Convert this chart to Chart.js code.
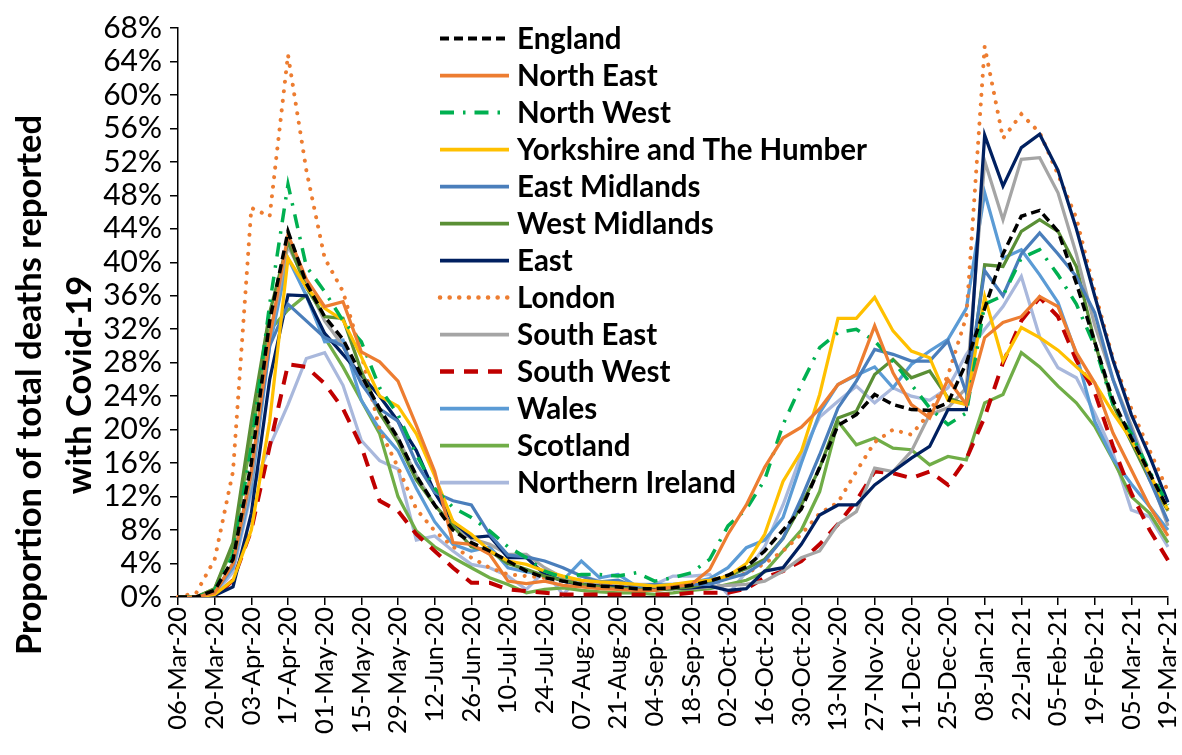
<!DOCTYPE html>
<html>
<head>
<meta charset="utf-8">
<title>Proportion of deaths with Covid-19 by region</title>
<script src="https://cdn.jsdelivr.net/npm/chart.js@4.4.1/dist/chart.umd.min.js"></script>
<style>
  html, body { margin: 0; padding: 0; background: #fff; overflow: hidden; }
  #wrap { width: 1182px; height: 755px; overflow: hidden; }
</style>
</head>
<body>
<div id="wrap"><canvas id="deathsChart" width="1182" height="770"></canvas></div>
<script>
// week ending dates
var weeks = ["06-Mar-20","13-Mar-20","20-Mar-20","27-Mar-20","03-Apr-20","10-Apr-20","17-Apr-20","24-Apr-20",
  "01-May-20","08-May-20","15-May-20","22-May-20","29-May-20","05-Jun-20","12-Jun-20","19-Jun-20","26-Jun-20",
  "03-Jul-20","10-Jul-20","17-Jul-20","24-Jul-20","31-Jul-20","07-Aug-20","14-Aug-20","21-Aug-20","28-Aug-20",
  "04-Sep-20","11-Sep-20","18-Sep-20","25-Sep-20","02-Oct-20","09-Oct-20","16-Oct-20","23-Oct-20","30-Oct-20",
  "06-Nov-20","13-Nov-20","20-Nov-20","27-Nov-20","04-Dec-20","11-Dec-20","18-Dec-20","25-Dec-20","01-Jan-21",
  "08-Jan-21","15-Jan-21","22-Jan-21","29-Jan-21","05-Feb-21","12-Feb-21","19-Feb-21","26-Feb-21","05-Mar-21",
  "12-Mar-21","19-Mar-21"];

// only every second week gets a label
var tickLabels = weeks.map(function (w, i) { return i % 2 === 0 ? w : null; });

// % of all deaths with Covid-19 mentioned
var england = [0,0,0.8,4.5,16,33,43.7,37.5,33.5,30.8, 26.5,22.5,19,14.5,11,8,6.5,5.5,4.3,3.1,
  2.3,1.9,1.5,1.3,1.2,1,1,1.1,1.4,1.9, 2.6,3.6,5.5,8,10.5,15.5,20.5,21.8,24.2,23,
  22.4,22.3,23.2,28,34.5,41,45.5,46.2,43.7,37.5, 30.5,23.5,19,14.8,10.5];
var northEast = [0,0,0.5,4,15,31,43.3,38,34.7,35.3, 29.3,28.1,25.8,20.5,15,6.5,6.3,5.1,1.9,1.6,
  1.9,1.4,1.2,1,0.9,0.8,0.8,1.2,1.5,3.3, 7.5,11,15.5,19,20.3,22.5,25.4,26.6,32.4,26.8,
  23,21.4,26,23,31,32.8,33.5,35.9,34.7,29.2, 25.6,19.6,15.2,10.8,7.3];
var northWest = [0,0,0.8,5,18,35,49.3,39.5,36.5,33, 30.5,25,21.8,17,13,10.7,9.5,7.9,6,4.7,
  3.1,2.3,2.7,2.7,2.5,2.9,1.9,2.3,2.9,4.5, 8.5,10.5,14,20.6,25.4,29.8,31.6,32,30.6,28.2,
  25.4,22.6,20.6,22,35,36,40.5,41.5,38.5,35, 30,23,19.5,15,11];
var yorkshire = [0,0,0.3,2,8,21,40.5,37,34.5,33.1, 28.7,24,22.8,19.5,14.5,9,7.5,5.5,4.3,3.9,
  3.1,2.5,2,1.8,1.7,1.5,1.3,1.5,1.8,2, 2.5,4,7.5,13.8,17.4,24.2,33.3,33.3,35.8,31.8,
  29.4,28.6,23.5,23,35.9,28.2,32.2,31,29.5,27.5, 25.6,22,18.8,14.7,10.4];
var eastMidlands = [0,0,0.5,4,15,30,35,33,31,30, 25.5,22.5,21,16,12.5,11.5,11,7.5,5,4.8,
  4.3,3.5,2.5,1.8,2,1.2,1.5,1.2,1.5,1.5, 2.2,2.8,4.3,7,11.8,17,22.6,25.8,29.6,29,
  28.2,28.2,30.6,24.4,39,36,41,43.5,41,38.3, 34,26,20,14,9];
var westMidlands = [0,0,1,6.5,21,34,42.5,37,33.5,33.3, 27,22,18.5,14,11,8.5,6,5.5,4,3.3,
  2.5,2,1.5,1.2,1,1,0.8,1,1.2,1.7, 2.5,3.4,4.5,7,11,15.4,21.4,22.2,26.6,28.4,
  26.2,27,23.8,23,39.7,39.5,43.7,45.1,43.7,39.5, 30.5,23,18.5,14,10.3];
var east = [0,0,0.2,1.2,10,26,36.1,36,31.5,29, 26.5,24,21,17.5,12.5,9,7.1,7.3,4.7,4.7,
  2.7,1.9,1.5,1.3,1.2,1,0.9,1,1.1,1.3, 0.8,1,3.1,3.5,6.3,9.8,11,11,13.4,15,
  16.6,18,22.4,22.4,55.2,49.1,53.7,55.3,51,44, 36,28.3,21.8,16.8,11.3];
var london = [0,0.5,4.5,15,46.5,45.5,64.8,51,40.5,36.5, 29,20,15.5,10.5,7.9,6,4.7,3.5,2.7,2.5,
  2.3,2,1.8,1.5,1.3,1.2,1.2,1.3,1.5,2, 2.5,2.8,4,5.5,7.5,10,11.3,15,18.5,20,
  19.4,22,26.5,33.5,65.8,54.8,57.7,55.5,50.5,45.3, 36.5,28.5,22.5,17.5,12.6];
var southEast = [0,0,0.5,4,14,31,42,37.5,33,30, 26,22,19,14.5,11,8.5,7,6.3,5.1,5.1,
  3.5,2.3,1.8,1.5,1.3,1.2,1,1,1,1.2, 1.4,1.5,1.9,3.1,4.7,5.5,8.7,10.2,15.4,15,
  17.4,21.8,22.6,25,52.1,45.1,52.3,52.5,48.3,41, 32.5,26,20.5,14.5,8.5];
var southWest = [0,0,0,2,8,18,27.8,27.5,25.5,22.5, 18,11.5,10.3,7.5,5.5,3.5,1.7,1.7,0.9,0.7,
  0.5,0.3,0.3,0.3,0.3,0.3,0.3,0.3,0.5,0.5, 0.5,1,2.3,3.1,4.3,6.3,8.7,11.5,15,14.8,
  14.2,15,13.4,16.5,21.5,28,33,35.8,33.5,28.3, 24.5,18,12.4,8,4.4];
var wales = [0,0,0.5,3.5,13,30,40.5,36,30.5,30.7, 23.5,20,17.5,13,9,6.3,5.5,6,3.5,3,
  2.7,2,4.3,2.3,2.7,1.3,1.5,1.5,1.7,2.2, 3.5,5.9,6.8,9.5,16,22,25.4,26.5,27.5,25,
  27.8,29.4,30.8,34.5,48.3,40.5,41.5,38.5,35.2,29, 21,16.5,13.5,10.8,8];
var scotland = [0,0,1,6,19,31.9,34.3,36.1,31,27.5, 23.5,19.5,12,7.9,6,4.7,3.5,2.3,1.5,0.5,
  0.9,1.1,0.8,0.6,0.5,0.5,0.3,0.5,0.8,1, 1.5,2,3,5.5,8,12.6,21,18.2,19,17.8,
  17.6,15.8,16.8,16.4,23.2,24.2,29.2,27.5,25.2,23.2, 20.4,16.4,12,10,6.5];
var northernIreland = [0,0,0.3,3,12.5,18,23,28.5,29.2,25.3, 18.7,16.3,15.3,6.8,7.3,5.5,3.9,3.5,2.5,0.9,
  3.1,0.3,2.5,1.9,1.3,1.5,1.5,2.5,2.5,2.7, 0.3,3,6,11,17,21.5,23.4,25.2,23.2,25,
  24,23.5,25,29,32,34.7,38.3,31.1,27.4,26.2, 22,17.2,10.4,9.6,6];

var yTitle = ["Proportion of total deaths reported", "with Covid-19"];

function series(label, data, color, extra) {
  var ds = {
    label: label,
    data: data,
    borderColor: color,
    backgroundColor: color,
    borderWidth: 3.25,
    pointRadius: 0,
    tension: 0,
    fill: false
  };
  for (var k in extra) ds[k] = extra[k];
  return ds;
}

var datasets = [
  series("England", england, "#000000", { borderDash: [9, 5], borderWidth: 3.5 }),
  series("North East", northEast, "#ed7d31"),
  series("North West", northWest, "#00b050", { borderDash: [14, 9, 2.5, 9], borderWidth: 3.5 }),
  series("Yorkshire and The Humber", yorkshire, "#ffc000"),
  series("East Midlands", eastMidlands, "#4a7ebb"),
  series("West Midlands", westMidlands, "#5a8f35"),
  series("East", east, "#002060"),
  series("London", london, "#ed7d31", { borderDash: [0.1, 9.5], borderCapStyle: "round", borderWidth: 4 }),
  series("South East", southEast, "#a5a5a5"),
  series("South West", southWest, "#c00000", { borderDash: [14, 10], borderWidth: 4 }),
  series("Wales", wales, "#5b9bd5"),
  series("Scotland", scotland, "#70ad47"),
  series("Northern Ireland", northernIreland, "#a9b8dc")
];

// key inside the plot plus the two-line axis title
var overlay = {
  id: "overlay",
  afterDatasetsDraw: function (chart) {
    var ctx = chart.ctx;
    ctx.save();
    chart.data.datasets.forEach(function (ds, i) {
      var y = 38.5 + i * 37;
      ctx.beginPath();
      ctx.strokeStyle = ds.borderColor;
      ctx.lineWidth = ds.borderWidth + 0.5;
      ctx.lineCap = ds.borderCapStyle || "butt";
      ctx.setLineDash(ds.borderDash || []);
      ctx.moveTo(440, y);
      ctx.lineTo(509, y);
      ctx.stroke();
      ctx.setLineDash([]);
      ctx.fillStyle = "#000";
      ctx.font = "bold 29.5px Lato";
      ctx.textAlign = "left";
      ctx.textBaseline = "middle";
      ctx.fillText(ds.label, 517, y + 1);
    });
    ctx.translate(0, 385);
    ctx.rotate(-Math.PI / 2);
    ctx.font = "bold 34.5px Lato";
    ctx.textAlign = "center";
    ctx.textBaseline = "middle";
    ctx.fillText(yTitle[0], 0, 30);
    ctx.fillText(yTitle[1], 0, 80);
    ctx.restore();
  }
};

Chart.defaults.font.family = "Lato";
Chart.defaults.color = "#000";

new Chart(document.getElementById("deathsChart"), {
  type: "line",
  data: { labels: weeks, datasets: datasets },
  plugins: [overlay],
  options: {
    responsive: false,
    animation: false,
    layout: { padding: { top: 28, right: 14, left: 0, bottom: 0 } },
    plugins: { legend: { display: false }, tooltip: { enabled: false } },
    scales: {
      x: {
        offset: false,
        border: { display: true, color: "#000", width: 1.5 },
        grid: { display: true, drawOnChartArea: false, drawTicks: true, tickLength: 8, color: "#000", lineWidth: 1.5 },
        ticks: {
          autoSkip: false,
          maxRotation: 90,
          minRotation: 90,
          padding: 2,
          font: { size: 25.5 },
          callback: function (v, i) { return tickLabels[i]; }
        },
        afterFit: function (scale) {
          scale.height = 770 - 597;
          scale.paddingLeft = 0;
          scale.paddingRight = 0;
        }
      },
      y: {
        min: 0,
        max: 68,
        border: { display: true, color: "#000", width: 1.5 },
        grid: { display: true, drawOnChartArea: false, tickLength: 8, color: "#000", lineWidth: 1.5 },
        ticks: {
          stepSize: 4,
          autoSkip: false,
          padding: 8,
          font: { size: 30 },
          callback: function (v) { return v + "%"; }
        },
        afterFit: function (scale) { scale.width = 178; }
      }
    }
  }
});
</script>
</body>
</html>
